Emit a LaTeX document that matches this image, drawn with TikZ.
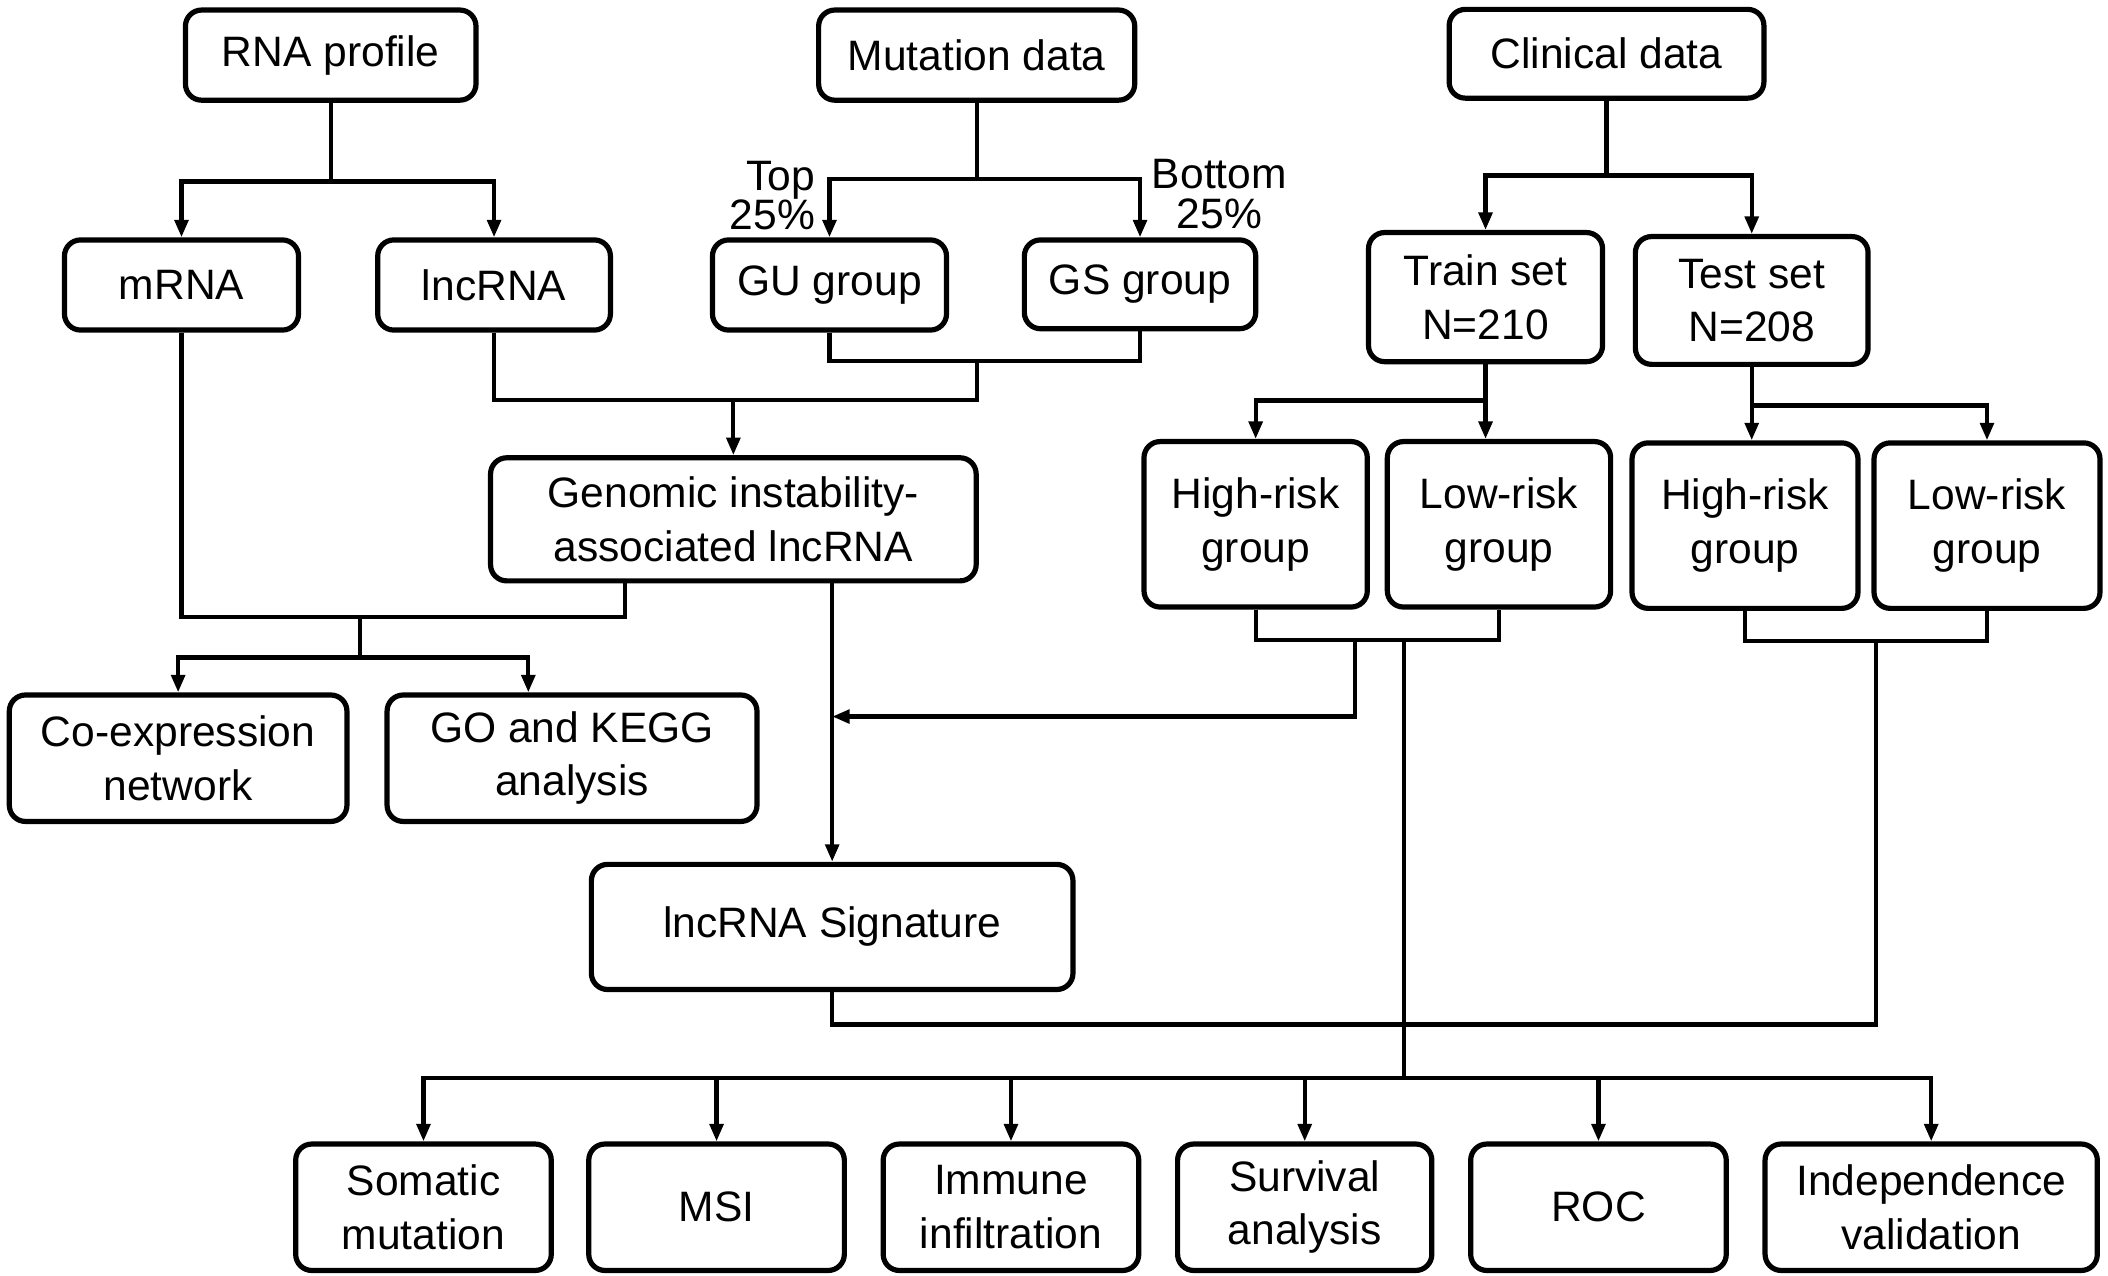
\documentclass[tikz,border=0pt]{standalone}
\usepackage{fontspec}
\setmainfont{Liberation Sans}
\usetikzlibrary{arrows.meta}
\begin{document}
\begin{tikzpicture}[x=0.01cm,y=-0.01cm,
	box/.style={draw,rounded corners=0.12cm,line width=1.1pt,align=center,inner sep=0pt,font=\fontsize{9}{11.3}\selectfont},
	link/.style={line width=0.9pt},
	arr/.style={line width=0.9pt,-{Triangle[length=0.13cm,width=0.1cm]}},
	lbl/.style={inner sep=0pt,font=\fontsize{9}{8.3}\selectfont}]

	\useasboundingbox (0,0) rectangle (1568,949);

	%The top row
	\node[box,minimum width=2.16cm,minimum height=0.67cm] (rna) at (246,41) {RNA profile};
	\node[box,minimum width=2.35cm,minimum height=0.67cm] (mut) at (726.5,41) {Mutation data};
	\node[box,minimum width=2.34cm,minimum height=0.66cm] (clin) at (1195,40) {Clinical data};

	%The second row
	\node[box,minimum width=1.74cm,minimum height=0.67cm] (mrna) at (135,212) {mRNA};
	\node[box,minimum width=1.73cm,minimum height=0.67cm] (lnc) at (367.5,212) {lncRNA};
	\node[box,minimum width=1.74cm,minimum height=0.67cm] (gu) at (617,212) {GU group};
	\node[box,minimum width=1.72cm,minimum height=0.66cm] (gs) at (848,211.5) {GS group};
	\node[box,minimum width=1.74cm,minimum height=0.96cm] (train) at (1105,221) {Train set\\N=210};
	\node[box,minimum width=1.73cm,minimum height=0.95cm] (test) at (1303,223.5) {Test set\\N=208};

	\node[lbl,align=right,anchor=north east] (toplbl) at (607,119) {Top\\25\%};
	\node[lbl,align=center,anchor=north] (botlbl) at (907,118) {Bottom\\25\%};

	%The middle
	\node[box,minimum width=3.61cm,minimum height=0.915cm] (gen) at (545.5,386.3) {Genomic instability-\\associated lncRNA};
	\node[box,minimum width=1.66cm,minimum height=1.23cm] (hr1) at (934,390) {High-risk\\group};
	\node[box,minimum width=1.66cm,minimum height=1.23cm] (lr1) at (1115,390) {Low-risk\\group};
	\node[box,minimum width=1.68cm,minimum height=1.23cm] (hr2) at (1298,391) {High-risk\\group};
	\node[box,minimum width=1.68cm,minimum height=1.23cm] (lr2) at (1478,391) {Low-risk\\group};

	\node[box,minimum width=2.51cm,minimum height=0.94cm] (coex) at (132.5,564) {Co-expression\\network};
	\node[box,minimum width=2.75cm,minimum height=0.94cm] (go) at (425.5,564) {GO and KEGG\\analysis};
	\node[box,minimum width=3.58cm,minimum height=0.93cm] (sig) at (619,689.5) {lncRNA Signature};

	%The bottom row
	\node[box,minimum width=1.90cm,minimum height=0.94cm] (som) at (315,898) {Somatic\\mutation};
	\node[box,minimum width=1.90cm,minimum height=0.94cm] (msi) at (533,898) {MSI};
	\node[box,minimum width=1.90cm,minimum height=0.94cm] (imm) at (752,898) {Immune\\infiltration};
	\node[box,minimum width=1.89cm,minimum height=0.94cm] (surv) at (970.5,898) {Survival\\analysis};
	\node[box,minimum width=1.90cm,minimum height=0.94cm] (roc) at (1189,898) {ROC};
	\node[box,minimum width=2.47cm,minimum height=0.94cm] (ind) at (1436.5,898) {Independence\\validation};

	%RNA profile split
	\coordinate (rnaj) at (246,135);
	\draw[link] (rna.south) -- (rnaj);
	\draw[arr] (rnaj) -| (mrna.north);
	\draw[arr] (rnaj) -| (lnc.north);

	%Mutation data split
	\coordinate (mutj) at (726.5,133);
	\draw[link] (mut.south) -- (mutj);
	\draw[arr] (mutj) -| (gu.north);
	\draw[arr] (mutj) -| (gs.north);

	%GU and GS with lncRNA
	\coordinate (mj) at (726.5,268.5);
	\coordinate (gj) at (545.5,297.6);
	\draw[link] (gu.south) |- (mj) -| (gs.south);
	\draw[link] (mj) -- (mj |- gj) -| (lnc.south);
	\draw[arr] (gj) -- (gen.north);

	%mRNA with genomic lncRNA
	\coordinate (rj) at (268,459);
	\coordinate (genl) at ([xshift=-0.805cm]gen.south);
	\draw[link] (mrna.south) |- (rj) -| (genl);
	\coordinate (cj) at (268,489);
	\coordinate (goin) at ([xshift=-0.325cm]go.north);
	\draw[link] (rj) -- (cj);
	\draw[arr] (cj) -| (coex.north);
	\draw[arr] (cj) -| (goin);

	\draw[arr] (sig.north |- gen.south) -- (sig.north);

	%Clinical data split
	\coordinate (clj) at (1195,130.6);
	\draw[link] (clin.south) -- (clj);
	\draw[arr] (clj) -| (train.north);
	\draw[arr] (clj) -| (test.north);

	\coordinate (trj) at (1105,298);
	\draw[link] (train.south) -- (trj);
	\draw[arr] (trj) -| (hr1.north);
	\draw[arr] (trj) -- (trj |- lr1.north);

	\coordinate (tej) at (1303,301.6);
	\draw[link] (test.south) -- (tej);
	\draw[arr] (tej) -- (tej |- hr2.north);
	\draw[arr] (tej) -| (lr2.north);

	%Risk groups joined
	\coordinate (b1a) at (1008,476);
	\coordinate (b1b) at (1044.5,476);
	\coordinate (lj) at (1008,533);
	\draw[link] (hr1.south) |- (b1a) -| (lr1.south);
	\draw[arr] (b1a) -- (lj) -- (sig.north |- lj);

	\coordinate (b2) at (1395.6,477);
	\coordinate (b2d) at (1395.6,762);
	\draw[link] (hr2.south) |- (b2) -| (lr2.south);
	\draw[link] (sig.south) |- (b2d) -- (b2);

	%To the analyses
	\coordinate (bj) at (1044.5,802);
	\draw[link] (b1b) -- (bj);
	\foreach \n in {som,msi,imm,surv,roc,ind}
		\draw[arr] (bj) -| (\n.north);

\end{tikzpicture}
\end{document}
